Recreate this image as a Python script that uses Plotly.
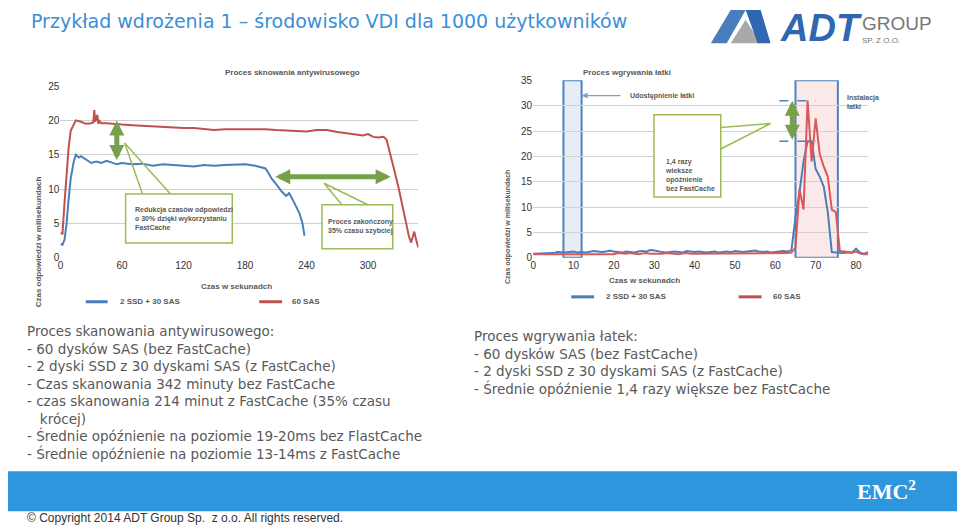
import plotly.graph_objects as go

# left chart: antivirus scan (seconds vs ms)
scan_t_blue = [0, 2, 4, 6, 8, 10, 13, 15, 18, 20, 25, 30, 35, 40, 45, 50, 55, 60, 65, 70, 80, 90, 100,
               110, 120, 130, 140, 150, 160, 170, 180, 190, 195, 200, 203, 206, 210, 213, 216, 220,
               223, 226, 230, 233, 236, 238]
scan_blue = [2.0, 1.9, 2.6, 5.0, 8.5, 11.5, 14.0, 15.0, 14.6, 14.8, 14.3, 13.8, 14.0, 13.8, 14.1, 13.9,
             13.6, 13.8, 13.7, 13.6, 13.7, 13.4, 13.6, 13.5, 13.4, 13.3, 13.5, 13.4, 13.5, 13.5, 13.6,
             13.4, 13.2, 13.0, 12.3, 11.5, 10.8, 10.2, 9.6, 9.0, 9.4, 8.6, 7.5, 6.5, 5.0, 3.2]
scan_t_red = [0, 2, 4, 6, 8, 10, 13, 15, 20, 25, 30, 32, 33, 34, 36, 37, 38, 40, 45, 50, 60, 70, 80,
              90, 100, 110, 120, 130, 140, 150, 160, 170, 180, 190, 200, 210, 220, 230, 240, 250,
              260, 270, 280, 290, 295, 300, 305, 310, 315, 318, 322, 326, 330, 334, 338, 340,
              342, 345, 347, 349]
scan_red = [3.6, 3.5, 8.0, 12.0, 16.0, 18.5, 19.5, 20.0, 19.8, 19.5, 19.6, 19.7, 21.5, 19.8, 20.8,
            19.5, 19.9, 19.6, 19.6, 19.5, 19.4, 19.3, 19.2, 19.2, 19.0, 18.9, 18.9, 18.9, 18.7, 18.6,
            18.7, 18.7, 18.8, 18.8, 18.7, 18.6, 18.5, 18.4, 18.4, 18.6, 18.6, 18.3, 18.1, 18.0, 17.8,
            18.0, 17.6, 17.5, 17.6, 17.2, 15.0, 12.5, 10.0, 7.0, 4.5, 3.0, 2.2, 3.8, 2.5, 1.5]

# right chart: patch installation (seconds vs ms)
patch_t = list(range(0, 84))
patch_blue = [0.8, 0.8, 0.8, 0.8, 0.9, 0.9, 1.1, 1.0, 1.0, 1.1, 1.2, 1.0, 1.1, 1.0, 1.1, 1.3, 1.2, 1.1,
              1.2, 1.4, 1.2, 1.1, 1.0, 1.2, 1.1, 1.0, 1.2, 1.3, 1.2, 1.5, 1.4, 1.2, 1.1, 1.0, 1.1, 1.2,
              1.1, 1.0, 1.3, 1.2, 1.1, 1.2, 1.1, 1.0, 1.1, 1.2, 1.0, 1.1, 1.2, 1.1, 1.3, 1.2, 1.1, 1.2,
              1.3, 1.4, 1.2, 1.1, 1.2, 1.0, 1.1, 1.2, 1.3, 1.2, 1.5, 8.0, 13.0, 19.0, 23.0, 23.0, 17.5,
              16.0, 14.0, 9.0, 1.1, 1.0, 0.9, 0.9, 1.0, 1.0, 1.8, 1.0, 0.8, 1.1]
patch_red = [0.7, 0.7, 0.7, 0.7, 0.8, 0.7, 0.8, 0.7, 0.8, 0.8, 0.7, 0.8, 0.8, 0.7, 0.8, 0.7, 0.8, 0.8,
             0.7, 0.8, 0.7, 0.9, 0.8, 0.8, 0.9, 0.8, 0.7, 0.8, 0.9, 0.8, 0.8, 0.7, 0.8, 0.9, 0.8, 0.8,
             0.7, 0.8, 0.9, 0.8, 0.8, 0.8, 0.9, 0.8, 0.8, 0.9, 0.8, 0.8, 0.9, 0.9, 0.8, 0.9, 0.9, 0.8,
             0.9, 0.9, 0.8, 0.9, 0.8, 0.9, 0.9, 0.8, 0.9, 0.9, 1.0, 2.0, 13.5, 9.5, 31.0, 19.0, 27.5,
             20.5, 18.0, 16.0, 9.5, 9.0, 1.3, 1.2, 1.1, 1.0, 1.2, 0.8, 0.7, 0.7]

scan_ticks = [0, 60, 120, 180, 240, 300]
patch_ticks = [0, 10, 20, 30, 40, 50, 60, 70, 80]

BLUE = "#4a7ebb"
RED = "#c0504d"
GREEN = "#9bbb59"
GREY = "#595959"


def px(x):
    return x / 960


def py(y):
    return 1 - y / 531


fig = go.Figure()
fig.add_trace(go.Scatter(x=scan_t_red, y=scan_red, mode="lines", line=dict(color=RED, width=2),
                         xaxis="x", yaxis="y"))
fig.add_trace(go.Scatter(x=scan_t_blue, y=scan_blue, mode="lines", line=dict(color=BLUE, width=2),
                         xaxis="x", yaxis="y"))
fig.add_trace(go.Scatter(x=patch_t, y=patch_blue, mode="lines", line=dict(color=BLUE, width=2),
                         xaxis="x2", yaxis="y2"))
fig.add_trace(go.Scatter(x=patch_t, y=patch_red, mode="lines", line=dict(color="#d9595a", width=2),
                         xaxis="x2", yaxis="y2"))

axis_font = dict(family="Liberation Sans", size=10, color="#333")
fig.update_layout(
    width=960, height=531, showlegend=False,
    margin=dict(l=0, r=0, t=0, b=0),
    paper_bgcolor="white", plot_bgcolor="white",
    xaxis=dict(domain=[0.06, 0.434], range=[0, 349], tickvals=scan_ticks, showgrid=False,
               zeroline=False, tickfont=axis_font, ticks=""),
    yaxis=dict(domain=[0.516, 0.846], range=[0, 25], dtick=5, gridcolor="#d0d0d0",
               zeroline=False, tickfont=axis_font),
    xaxis2=dict(domain=[0.554, 0.904], range=[0, 83], tickvals=patch_ticks, showgrid=False,
                zeroline=False, tickfont=axis_font, anchor="y2"),
    yaxis2=dict(domain=[0.516, 0.857], range=[0, 35], dtick=5, gridcolor="#d0d0d0",
                zeroline=False, tickfont=axis_font, anchor="x2"),
)

shapes = [
    # right chart highlight boxes
    dict(type="rect", xref="x2", yref="y2", x0=7.5, x1=12, y0=0, y1=35,
         fillcolor="rgba(200,215,235,0.45)", line=dict(color="#4f81bd", width=2), layer="below"),
    dict(type="rect", xref="x2", yref="y2", x0=65, x1=75.5, y0=0, y1=35,
         fillcolor="rgba(250,215,215,0.55)", line=dict(color="#4f81bd", width=2), layer="below"),
    dict(type="line", xref="x2", yref="y2", x0=61, x1=70, y0=31, y1=31,
         line=dict(color="#4f81bd", width=1.5, dash="dash")),
    dict(type="line", xref="x2", yref="y2", x0=61, x1=70, y0=23, y1=23,
         line=dict(color="#4f81bd", width=1.5, dash="dash")),
    # callout boxes
    dict(type="rect", xref="paper", yref="paper", x0=px(123), x1=px(230), y0=py(242), y1=py(192),
         fillcolor="white", line=dict(color=GREEN, width=1.5)),
    dict(type="rect", xref="paper", yref="paper", x0=px(320), x1=px(391), y0=py(248), y1=py(203),
         fillcolor="white", line=dict(color=GREEN, width=1.5)),
    dict(type="rect", xref="paper", yref="paper", x0=px(653), x1=px(720), y0=py(195), y1=py(111),
         fillcolor="white", line=dict(color=GREEN, width=1.5)),
    # callout pointers
    dict(type="path", xref="paper", yref="paper",
         path=f"M {px(140)},{py(192)} L {px(122)},{py(140)} L {px(168)},{py(192)}",
         line=dict(color=GREEN, width=1.5)),
    dict(type="path", xref="paper", yref="paper",
         path=f"M {px(340)},{py(203)} L {px(322)},{py(181)} L {px(366)},{py(203)}",
         line=dict(color=GREEN, width=1.5)),
    dict(type="path", xref="paper", yref="paper",
         path=f"M {px(720)},{py(124)} L {px(770)},{py(120)} L {px(720)},{py(146)}",
         line=dict(color=GREEN, width=1.5)),
    # bottom bar
    dict(type="rect", xref="paper", yref="paper", x0=px(5), x1=px(957), y0=py(516), y1=py(475),
         fillcolor="#2e96dc", line=dict(width=0)),
    # legend lines
    dict(type="line", xref="paper", yref="paper", x0=px(83), x1=px(105), y0=py(302), y1=py(302),
         line=dict(color=BLUE, width=3)),
    dict(type="line", xref="paper", yref="paper", x0=px(257), x1=px(280), y0=py(302), y1=py(302),
         line=dict(color=RED, width=3)),
    dict(type="line", xref="paper", yref="paper", x0=px(570), x1=px(593), y0=py(297), y1=py(297),
         line=dict(color=BLUE, width=3)),
    dict(type="line", xref="paper", yref="paper", x0=px(738), x1=px(761), y0=py(297), y1=py(297),
         line=dict(color=RED, width=3)),
    # logo mark
    dict(type="path", xref="paper", yref="paper",
         path=f"M {px(710)},{py(38)} L {px(730)},{py(4)} L {px(745)},{py(4)} L {px(726)},{py(38)} Z",
         fillcolor="#4a7ebb", line=dict(width=0)),
    dict(type="path", xref="paper", yref="paper",
         path=f"M {px(730)},{py(38)} L {px(745)},{py(14)} L {px(760)},{py(38)} Z",
         fillcolor="#a9a9a9", line=dict(width=0)),
    dict(type="path", xref="paper", yref="paper",
         path=f"M {px(745)},{py(4)} L {px(760)},{py(4)} L {px(770)},{py(38)} L {px(757)},{py(38)} Z",
         fillcolor="#2f67b0", line=dict(width=0)),
]
fig.update_layout(shapes=shapes)

small = dict(family="Liberation Sans", size=8, color=GREY)
tiny = dict(family="Liberation Sans", size=7, color=GREY)
anns = [
    dict(x=px(26), y=py(15), xref="paper", yref="paper", xanchor="left", yanchor="middle",
         text="Przykład wdrożenia 1 – środowisko VDI dla 1000 użytkowników", showarrow=False,
         font=dict(family="DejaVu Sans", size=19, color="#3b8fd9")),
    dict(x=px(864), y=py(22), xref="paper", yref="paper", xanchor="right", yanchor="middle",
         text="<b><i>ADT</i></b>", showarrow=False,
         font=dict(family="Liberation Sans", size=38, color="#2f67b0")),
    dict(x=px(860), y=py(18), xref="paper", yref="paper", xanchor="left", yanchor="middle",
         text="GROUP", showarrow=False, font=dict(family="Liberation Sans", size=19, color="#777")),
    dict(x=px(860), y=py(35), xref="paper", yref="paper", xanchor="left", yanchor="middle",
         text="SP. Z O.O.", showarrow=False, font=dict(family="Liberation Sans", size=8, color="#777")),
    # chart titles
    dict(x=0.23, y=py(61), xref="paper", yref="paper", text="<b>Proces sknowania antywirusowego</b>",
         showarrow=False, font=small),
    dict(x=0.70, y=py(61), xref="paper", yref="paper", text="<b>Proces wgrywania łatki</b>",
         showarrow=False, font=small),
    dict(x=0.205, y=py(286), xref="paper", yref="paper", text="<b>Czas w sekunadch</b>",
         showarrow=False, font=small),
    dict(x=0.71, y=py(280), xref="paper", yref="paper", text="<b>Czas w sekunadch</b>",
         showarrow=False, font=small),
    dict(x=px(30), y=py(172), xref="paper", yref="paper", text="<b>Czas odpowiedzi w milisekundach</b>",
         showarrow=False, textangle=-90, font=small),
    dict(x=px(506), y=py(165), xref="paper", yref="paper", text="<b>Czas odpowiedzi w milisekundach</b>",
         showarrow=False, textangle=-90, font=tiny),
    # legends
    dict(x=px(115), y=py(302), xref="paper", yref="paper", xanchor="left", text="<b>2 SSD + 30 SAS</b>",
         showarrow=False, font=small),
    dict(x=px(288), y=py(302), xref="paper", yref="paper", xanchor="left", text="<b>60 SAS</b>",
         showarrow=False, font=small),
    dict(x=px(603), y=py(297), xref="paper", yref="paper", xanchor="left", text="<b>2 SSD + 30 SAS</b>",
         showarrow=False, font=small),
    dict(x=px(770), y=py(297), xref="paper", yref="paper", xanchor="left", text="<b>60 SAS</b>",
         showarrow=False, font=small),
    # callout texts
    dict(x=px(130), y=py(217), xref="paper", yref="paper", xanchor="left", align="left",
         text="<b>Redukcja czasów odpowiedzi<br>o 30% dzięki wykorzystaniu<br>FastCache</b>",
         showarrow=False, font=tiny),
    dict(x=px(324), y=py(225), xref="paper", yref="paper", xanchor="left", align="left",
         text="<b>Proces zakończony<br>35% czasu szybciej</b>", showarrow=False, font=tiny),
    dict(x=px(662), y=py(153), xref="paper", yref="paper", xanchor="left", align="left",
         text="<b>1,4 razy<br>wieksze<br>opóźnienie<br>bez FastCache</b>", showarrow=False, font=tiny),
    dict(x=px(845), y=py(88), xref="paper", yref="paper", xanchor="left", align="left",
         text="<b>Instalacja<br>łatki</b>", showarrow=False, font=tiny),
    # right-chart pointer to patch availability
    dict(x=12, y=32, xref="x2", yref="y2", ax=22, ay=32, axref="x2", ayref="y2", text="",
         showarrow=True, arrowhead=2, arrowcolor="#7f9fc8", arrowwidth=1.2),
    dict(x=23.5, y=32, xref="x2", yref="y2", xanchor="left", text="<b>Udostępnienie łatki</b>",
         showarrow=False, font=tiny),
    # green double arrows
    dict(x=55, y=20, xref="x", yref="y", ax=55, ay=14, axref="x", ayref="y", text="",
         showarrow=True, arrowhead=2, startarrowhead=2, arrowside="end+start",
         arrowcolor="#77a04a", arrowwidth=5, arrowsize=0.6),
    dict(x=322, y=11.8, xref="x", yref="y", ax=208, ay=11.8, axref="x", ayref="y", text="",
         showarrow=True, arrowhead=2, startarrowhead=2, arrowside="end+start",
         arrowcolor="#77a04a", arrowwidth=5, arrowsize=0.6),
    dict(x=64.2, y=31, xref="x2", yref="y2", ax=64.2, ay=23, axref="x2", ayref="y2", text="",
         showarrow=True, arrowhead=2, startarrowhead=2, arrowside="end+start",
         arrowcolor="#77a04a", arrowwidth=5, arrowsize=0.6),
    # body text
    dict(x=px(22), y=py(322), xref="paper", yref="paper", xanchor="left", yanchor="top", align="left",
         text=("Proces skanowania antywirusowego:<br>- 60 dysków SAS (bez FastCache)<br>"
               "- 2 dyski SSD z 30 dyskami SAS (z FastCache)<br>- Czas skanowania 342 minuty bez FastCache<br>"
               "- czas skanowania 214 minut z FastCache (35% czasu<br>   krócej)<br>"
               "- Średnie opóźnienie na poziomie 19-20ms bez FlastCache<br>"
               "- Średnie opóźnienie na poziomie 13-14ms z FastCache"),
         showarrow=False, font=dict(family="DejaVu Sans", size=13.5, color="#595959")),
    dict(x=px(470), y=py(327), xref="paper", yref="paper", xanchor="left", yanchor="top", align="left",
         text=("Proces wgrywania łatek:<br>- 60 dysków SAS (bez FastCache)<br>"
               "- 2 dyski SSD z 30 dyskami SAS (z FastCache)<br>- Średnie opóźnienie 1,4 razy większe bez FastCache"),
         showarrow=False, font=dict(family="DejaVu Sans", size=13.5, color="#595959")),
    dict(x=px(918), y=py(494), xref="paper", yref="paper", xanchor="right", yanchor="middle",
         text="<b>EMC<sup>2</sup></b>", showarrow=False,
         font=dict(family="Liberation Serif", size=22, color="white")),
    dict(x=px(22), y=py(523), xref="paper", yref="paper", xanchor="left", yanchor="middle",
         text="© Copyright 2014 ADT Group Sp.  z o.o. All rights reserved.", showarrow=False,
         font=dict(family="Liberation Sans", size=12, color="#333")),
]
fig.update_layout(annotations=anns)

fig.write_html("out.html", config={"displayModeBar": False},
               post_script="document.body.style.margin='0';")
